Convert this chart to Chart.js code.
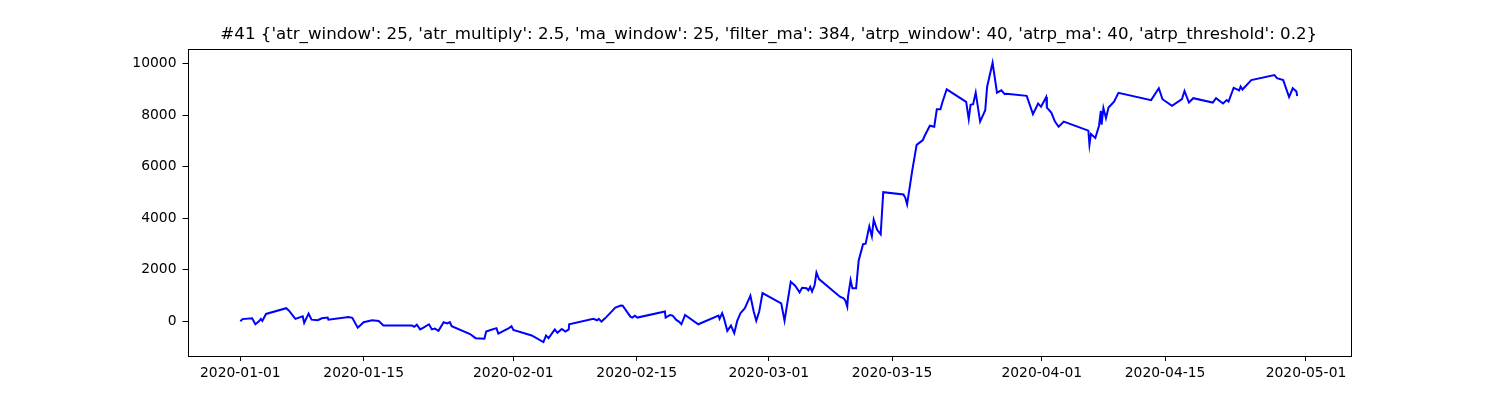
<!DOCTYPE html>
<html>
<head>
<meta charset="utf-8">
<script src="https://cdn.jsdelivr.net/npm/chart.js@4"></script>
<style>
  html, body { margin: 0; padding: 0; background: #fff; }
  #wrap { width: 1500px; height: 400px; }
</style>
</head>
<body>
<div id="wrap"><canvas id="equity"></canvas></div>
<script>
const chartTitle = "#41 {'atr_window': 25, 'atr_multiply': 2.5, 'ma_window': 25, 'filter_ma': 384, 'atrp_window': 40, 'atrp_ma': 40, 'atrp_threshold': 0.2}";

// timestamps of each point (UTC, hour resolution)
const dates = [
  "2020-01-01 00:00", "2020-01-01 06:00", "2020-01-02 08:00", "2020-01-02 17:00", "2020-01-03 02:00",
  "2020-01-03 08:00", "2020-01-03 12:00", "2020-01-03 22:00", "2020-01-06 05:00", "2020-01-06 12:00",
  "2020-01-07 06:00", "2020-01-08 02:00", "2020-01-08 06:00", "2020-01-08 18:00", "2020-01-09 02:00",
  "2020-01-09 19:00", "2020-01-10 06:00", "2020-01-10 22:00", "2020-01-11 00:00", "2020-01-13 07:00",
  "2020-01-13 17:00", "2020-01-14 08:00", "2020-01-15 00:00", "2020-01-15 23:00", "2020-01-16 17:00",
  "2020-01-17 06:00", "2020-01-20 12:00", "2020-01-20 18:00", "2020-01-21 01:00", "2020-01-21 10:00",
  "2020-01-21 19:00", "2020-01-22 10:00", "2020-01-22 18:00", "2020-01-23 02:00", "2020-01-23 12:00",
  "2020-01-24 02:00", "2020-01-24 12:00", "2020-01-24 19:00", "2020-01-25 00:00", "2020-01-27 02:00",
  "2020-01-27 17:00", "2020-01-28 17:00", "2020-01-28 22:00", "2020-01-29 10:00", "2020-01-30 02:00",
  "2020-01-30 07:00", "2020-01-31 12:00", "2020-01-31 19:00", "2020-02-01 00:00", "2020-02-03 02:00",
  "2020-02-04 10:00", "2020-02-04 17:00", "2020-02-05 00:00", "2020-02-05 17:00", "2020-02-06 00:00",
  "2020-02-06 12:00", "2020-02-06 22:00", "2020-02-07 07:00", "2020-02-07 08:00", "2020-02-10 02:00",
  "2020-02-10 12:00", "2020-02-10 17:00", "2020-02-11 00:00", "2020-02-11 10:00", "2020-02-12 14:00",
  "2020-02-13 05:00", "2020-02-13 10:00", "2020-02-14 07:00", "2020-02-14 12:00", "2020-02-14 19:00",
  "2020-02-15 02:00", "2020-02-18 05:00", "2020-02-18 07:00", "2020-02-18 19:00", "2020-02-19 02:00",
  "2020-02-19 12:00", "2020-02-19 19:00", "2020-02-20 02:00", "2020-02-20 12:00", "2020-02-22 00:00",
  "2020-02-24 07:00", "2020-02-24 10:00", "2020-02-24 17:00", "2020-02-24 22:00", "2020-02-25 07:00",
  "2020-02-25 17:00", "2020-02-26 02:00", "2020-02-26 10:00", "2020-02-26 19:00", "2020-02-27 07:00",
  "2020-02-27 22:00", "2020-02-28 07:00", "2020-02-28 14:00", "2020-02-28 22:00", "2020-02-29 07:00",
  "2020-03-02 10:00", "2020-03-02 19:00", "2020-03-03 12:00", "2020-03-04 00:00", "2020-03-04 12:00",
  "2020-03-04 19:00", "2020-03-05 07:00", "2020-03-05 12:00", "2020-03-05 17:00", "2020-03-05 22:00",
  "2020-03-06 05:00", "2020-03-06 10:00", "2020-03-06 17:00", "2020-03-09 02:00", "2020-03-09 12:00",
  "2020-03-09 17:00", "2020-03-09 22:00", "2020-03-10 00:00", "2020-03-10 07:00", "2020-03-10 12:00",
  "2020-03-10 22:00", "2020-03-11 05:00", "2020-03-11 17:00", "2020-03-12 00:00", "2020-03-12 10:00",
  "2020-03-12 17:00", "2020-03-12 22:00", "2020-03-13 07:00", "2020-03-13 17:00", "2020-03-14 00:00",
  "2020-03-16 07:00", "2020-03-16 12:00", "2020-03-16 17:00", "2020-03-17 07:00", "2020-03-17 19:00",
  "2020-03-18 12:00", "2020-03-18 17:00", "2020-03-19 07:00", "2020-03-19 19:00", "2020-03-20 02:00",
  "2020-03-20 12:00", "2020-03-20 17:00", "2020-03-21 05:00", "2020-03-23 10:00", "2020-03-23 17:00",
  "2020-03-23 22:00", "2020-03-24 05:00", "2020-03-24 12:00", "2020-03-25 00:00", "2020-03-25 14:00",
  "2020-03-25 19:00", "2020-03-26 10:00", "2020-03-26 22:00", "2020-03-27 10:00", "2020-03-27 19:00",
  "2020-03-28 00:00", "2020-03-30 07:00", "2020-03-31 00:00", "2020-03-31 14:00", "2020-03-31 22:00",
  "2020-04-01 12:00", "2020-04-01 14:00", "2020-04-02 02:00", "2020-04-02 12:00", "2020-04-02 22:00",
  "2020-04-03 12:00", "2020-04-06 07:00", "2020-04-06 10:00", "2020-04-06 14:00", "2020-04-07 02:00",
  "2020-04-07 12:00", "2020-04-07 17:00", "2020-04-07 19:00", "2020-04-08 00:00", "2020-04-08 07:00",
  "2020-04-08 14:00", "2020-04-09 05:00", "2020-04-09 17:00", "2020-04-13 10:00", "2020-04-14 07:00",
  "2020-04-14 17:00", "2020-04-15 19:00", "2020-04-16 22:00", "2020-04-17 05:00", "2020-04-17 17:00",
  "2020-04-18 05:00", "2020-04-20 10:00", "2020-04-20 19:00", "2020-04-21 14:00", "2020-04-22 00:00",
  "2020-04-22 05:00", "2020-04-22 19:00", "2020-04-23 10:00", "2020-04-23 14:00", "2020-04-23 19:00",
  "2020-04-24 19:00", "2020-04-27 10:00", "2020-04-27 17:00", "2020-04-28 10:00", "2020-04-29 02:00",
  "2020-04-29 12:00", "2020-04-29 22:00", "2020-04-30 00:00"
];

// cumulative pnl at each timestamp
const pnl = [
  0, 80, 110, -120, -15,
  90, 10, 280, 505, 415,
  90, 190, -70, 295, 60,
  35, 110, 140, 60, 165,
  130, -250, -40, 35, 10,
  -170, -170, -220, -140, -320,
  -250, -120, -320, -290, -375,
  -40, -90, -40, -195, -500,
  -660, -680, -400, -340, -270,
  -480, -270, -195, -340, -555,
  -810, -555, -660, -320, -450,
  -300, -400, -320, -120, 90,
  35, 90, -15, 110, 525,
  605, 600, 175, 140, 215,
  140, 375, 140, 240, 215,
  50, -15, -120, 240, -120,
  215, 90, 310, 110, -375,
  -170, -465, 10, 310, 505,
  990, 375, 20, 375, 1090,
  695, 20, 1530, 1380, 1120,
  1300, 1280, 1200, 1330, 1150,
  1405, 1890, 1635, 950, 885,
  795, 565, 950, 1595, 1275,
  1275, 2345, 2990, 3010, 3680,
  3300, 3940, 3555, 3375, 5010,
  4920, 4800, 4535, 5850, 6845,
  7035, 7200, 7590, 7550, 8230,
  8230, 8490, 9005, 8515, 7850,
  8405, 8425, 8875, 7750, 8195,
  9095, 10035, 8875, 8965, 8815,
  8835, 8750, 8040, 8455, 8325,
  8705, 8295, 8100, 7750, 7550,
  7750, 7400, 6855, 7270, 7115,
  7590, 8170, 7630, 8275, 7885,
  8295, 8525, 8865, 8585, 9045,
  8620, 8365, 8620, 8940, 8490,
  8660, 8490, 8660, 8455, 8585,
  8525, 9065, 8965, 9115, 8995,
  9360, 9560, 9435, 9360, 8705,
  9045, 8915, 8745
];

const xTickDates = ["2020-01-01", "2020-01-15", "2020-02-01", "2020-02-15", "2020-03-01",
  "2020-03-15", "2020-04-01", "2020-04-15", "2020-05-01"];
const yTicks = [0, 2000, 4000, 6000, 8000, 10000];

function toMs(s) {
  const [d, t] = s.split(" ");
  const [y, m, day] = d.split("-").map(Number);
  const [hh, mm] = (t || "00:00").split(":").map(Number);
  return Date.UTC(y, m - 1, day, hh, mm);
}

function fmtDate(ms) {
  return new Date(ms).toISOString().slice(0, 10);
}

const points = dates.map((d, i) => ({ x: toMs(d), y: pnl[i] }));

// matplotlib-like 5% margins
const xs = points.map(p => p.x);
const ys = points.map(p => p.y);
const xMinData = Math.min(...xs), xMaxData = Math.max(...xs);
const yMinData = Math.min(...ys), yMaxData = Math.max(...ys);
const xPad = (xMaxData - xMinData) * 0.05;
const yPad = (yMaxData - yMinData) * 0.05;

// box around the axes + title centred on the plot area
const frame = {
  id: "frame",
  afterDraw(chart) {
    const { ctx, chartArea: a } = chart;
    ctx.save();
    ctx.strokeStyle = "#000";
    ctx.lineWidth = 1;
    ctx.strokeRect(Math.round(a.left) + 0.5, Math.round(a.top) + 0.5,
      Math.round(a.right - a.left), Math.round(a.bottom - a.top));
    ctx.fillStyle = "#000";
    ctx.font = "16.67px 'DejaVu Sans'";
    ctx.textAlign = "center";
    ctx.textBaseline = "alphabetic";
    ctx.fillText(chartTitle, (a.left + a.right) / 2, a.top - 9.5);
    ctx.restore();
  }
};

const tickFont = { family: "DejaVu Sans", size: 13.89 };

new Chart(document.getElementById("equity"), {
  type: "line",
  data: {
    datasets: [{
      data: points,
      borderColor: "#0000ff",
      borderWidth: 2,
      pointRadius: 0,
      tension: 0,
      fill: false
    }]
  },
  options: {
    responsive: true,
    maintainAspectRatio: false,
    animation: false,
    events: [],
    layout: { padding: { left: 107.5, right: 150, top: 48.8, bottom: 0 } },
    plugins: {
      legend: { display: false },
      tooltip: { enabled: false },
      title: { display: false }
    },
    scales: {
      x: {
        type: "linear",
        min: xMinData - xPad,
        max: xMaxData + xPad,
        afterBuildTicks: (s) => { s.ticks = xTickDates.map(d => ({ value: toMs(d) })); },
        afterFit: (s) => { s.height = 44; },
        ticks: {
          color: "#000",
          font: tickFont,
          padding: 4,
          maxRotation: 0,
          autoSkip: false,
          callback: (v) => fmtDate(v)
        },
        grid: { drawOnChartArea: false, drawTicks: true, tickLength: 5, color: "#000" },
        border: { display: false }
      },
      y: {
        min: yMinData - yPad,
        max: yMaxData + yPad,
        afterBuildTicks: (s) => { s.ticks = yTicks.map(v => ({ value: v })); },
        afterFit: (s) => { s.width = 80; },
        ticks: {
          color: "#000",
          font: tickFont,
          padding: 6,
          callback: (v) => String(v)
        },
        grid: { drawOnChartArea: false, drawTicks: true, tickLength: 5, color: "#000" },
        border: { display: false }
      }
    }
  },
  plugins: [frame]
});
</script>
</body>
</html>
